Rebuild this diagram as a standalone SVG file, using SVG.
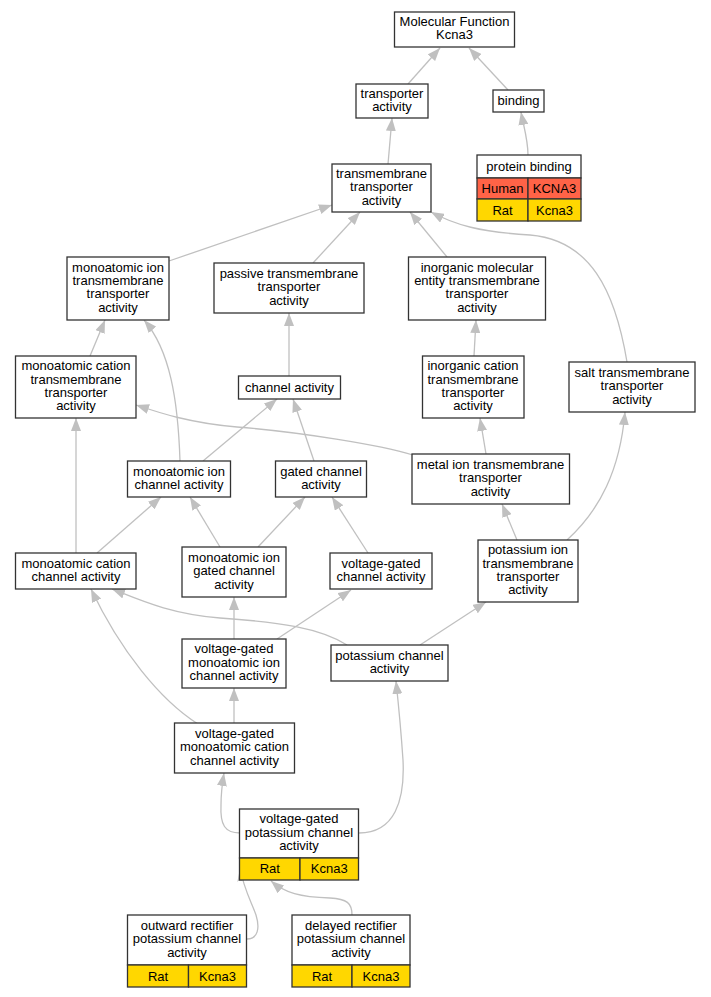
<svg xmlns="http://www.w3.org/2000/svg" width="711" height="997" viewBox="0 0 711 997">
<defs>
<marker id="a" markerUnits="userSpaceOnUse" markerWidth="14" markerHeight="10" refX="13" refY="5" orient="auto"><path d="M0,0 L13,5 L0,10 z" fill="#c0c0c0"/></marker>
<style>
rect{fill:#fff;stroke:#333;stroke-width:1.3}
rect.r{fill:#ff6347}
rect.y{fill:#ffd700}
text{font-family:"Liberation Sans",Arial,sans-serif;font-size:13px;text-anchor:middle;fill:#000}
.e path{fill:none;stroke:#c0c0c0;stroke-width:1.3;marker-end:url(#a)}
</style>
</defs>
<rect x="0" y="0" width="711" height="997" style="fill:#fff;stroke:none"/>
<g class="e" id="edges">
<path d="M408,84 L440,48"/>
<path d="M508,90 L469,48"/>
<path d="M528,155 C528,140 524,128 521,112"/>
<path d="M388,164 L392,118"/>
<path d="M169,261 L332,205"/>
<path d="M313,263 L360,212"/>
<path d="M447,257 L410,212"/>
<path d="M627,362 C615,290 590,240 530,235 C480,232 455,225 431,212"/>
<path d="M90,356 L105,320"/>
<path d="M180,461 C178,400 170,350 144,320"/>
<path d="M289,376 L289,313"/>
<path d="M474,356 L476,320"/>
<path d="M413,455 C380,445 300,432 237,427 C190,423 160,413 136,405"/>
<path d="M486,454 L480,418"/>
<path d="M567,540 C600,510 620,470 625,412"/>
<path d="M203,461 L277,399"/>
<path d="M314,461 L293,399"/>
<path d="M76,553 L76,418"/>
<path d="M97,553 L161,497"/>
<path d="M220,547 L190,497"/>
<path d="M258,547 L305,497"/>
<path d="M368,553 L332,497"/>
<path d="M517,540 L502,504"/>
<path d="M234,639 L234,597"/>
<path d="M277,639 L351,590"/>
<path d="M420,645 L486,602"/>
<path d="M347,645 C320,628 280,622 220,618 C170,614 140,600 112,589"/>
<path d="M198,724 C160,700 120,650 91,589"/>
<path d="M234,723 L234,688"/>
<path d="M240,833 C225,833 220,825 221,805 C221,795 222,785 224,773"/>
<path d="M359,833 C395,833 405,800 403,760 C401,730 398,700 396,681"/>
<path d="M247,939 C258,939 260,928 256,915 C252,903 244,890 240,868"/>
<path d="M352,915 C352,903 347,899 330,898 C300,897 285,893 271,881"/>
</g>
<g id="mf"><rect x="394.5" y="12" width="120" height="35"/><text x="454.5" y="26">Molecular Function</text><text x="454.5" y="39.4">Kcna3</text></g>
<g id="transporter"><rect x="356" y="84" width="72" height="34"/><text x="392" y="97.6">transporter</text><text x="392" y="111">activity</text></g>
<g id="binding"><rect x="493" y="90" width="51" height="22"/><text x="518.5" y="104.5">binding</text></g>
<g id="protein-binding">
<rect x="477" y="155" width="104" height="23"/><text x="529" y="171">protein binding</text>
<rect class="r" x="477" y="178" width="51" height="21"/><text x="502.5" y="193">Human</text>
<rect class="r" x="528" y="178" width="53" height="21"/><text x="554.5" y="193">KCNA3</text>
<rect class="y" x="477" y="199" width="51" height="22"/><text x="502.5" y="214.5">Rat</text>
<rect class="y" x="528" y="199" width="53" height="22"/><text x="554.5" y="214.5">Kcna3</text>
</g>
<g id="tm"><rect x="332" y="164" width="99" height="48"/><text x="381.5" y="177.8">transmembrane</text><text x="381.5" y="191.2">transporter</text><text x="381.5" y="204.6">activity</text></g>
<g id="mono-ion-tm"><rect x="67" y="257" width="102" height="63"/><text x="118" y="271.6">monoatomic ion</text><text x="118" y="285">transmembrane</text><text x="118" y="298.4">transporter</text><text x="118" y="311.8">activity</text></g>
<g id="passive"><rect x="214" y="263" width="150" height="50"/><text x="289" y="277.8">passive transmembrane</text><text x="289" y="291.2">transporter</text><text x="289" y="304.6">activity</text></g>
<g id="inorg-mol"><rect x="408.5" y="257" width="137" height="63"/><text x="477" y="271.6">inorganic molecular</text><text x="477" y="285">entity transmembrane</text><text x="477" y="298.4">transporter</text><text x="477" y="311.8">activity</text></g>
<g id="mono-cation-tm"><rect x="15.5" y="356" width="120.5" height="62"/><text x="76" y="370.1">monoatomic cation</text><text x="76" y="383.5">transmembrane</text><text x="76" y="396.9">transporter</text><text x="76" y="410.3">activity</text></g>
<g id="channel"><rect x="238.5" y="376" width="102" height="23"/><text x="289.5" y="391.5">channel activity</text></g>
<g id="inorg-cation"><rect x="422.5" y="356" width="101.5" height="62"/><text x="473" y="370.1">inorganic cation</text><text x="473" y="383.5">transmembrane</text><text x="473" y="396.9">transporter</text><text x="473" y="410.3">activity</text></g>
<g id="salt"><rect x="569" y="362" width="126" height="50"/><text x="632" y="376.8">salt transmembrane</text><text x="632" y="390.2">transporter</text><text x="632" y="403.6">activity</text></g>
<g id="mono-ion-channel"><rect x="127.5" y="461" width="103" height="36"/><text x="179" y="475.5">monoatomic ion</text><text x="179" y="488.9">channel activity</text></g>
<g id="gated"><rect x="275.5" y="461" width="91" height="36"/><text x="321" y="475.5">gated channel</text><text x="321" y="488.9">activity</text></g>
<g id="metal"><rect x="412" y="454" width="157.5" height="50"/><text x="490.5" y="468.8">metal ion transmembrane</text><text x="490.5" y="482.2">transporter</text><text x="490.5" y="495.6">activity</text></g>
<g id="mono-cation-channel"><rect x="15.5" y="553" width="120.5" height="36"/><text x="76" y="567.5">monoatomic cation</text><text x="76" y="580.9">channel activity</text></g>
<g id="mono-ion-gated"><rect x="182" y="547" width="104" height="50"/><text x="234" y="561.8">monoatomic ion</text><text x="234" y="575.2">gated channel</text><text x="234" y="588.6">activity</text></g>
<g id="vg-channel"><rect x="330" y="553" width="102" height="36"/><text x="381" y="567.5">voltage-gated</text><text x="381" y="580.9">channel activity</text></g>
<g id="k-ion-tm"><rect x="478" y="540" width="100" height="62"/><text x="528" y="554.1">potassium ion</text><text x="528" y="567.5">transmembrane</text><text x="528" y="580.9">transporter</text><text x="528" y="594.3">activity</text></g>
<g id="vg-mono-ion"><rect x="182" y="639" width="104" height="49"/><text x="234" y="653.3">voltage-gated</text><text x="234" y="666.7">monoatomic ion</text><text x="234" y="680.1">channel activity</text></g>
<g id="k-channel"><rect x="331" y="645" width="117" height="36"/><text x="389.5" y="659.5">potassium channel</text><text x="389.5" y="672.9">activity</text></g>
<g id="vg-mono-cation"><rect x="174.5" y="723" width="120" height="50"/><text x="234.5" y="737.8">voltage-gated</text><text x="234.5" y="751.2">monoatomic cation</text><text x="234.5" y="764.6">channel activity</text></g>
<g id="vgk">
<rect x="239.5" y="809" width="119" height="49"/><text x="299" y="823.3">voltage-gated</text><text x="299" y="836.7">potassium channel</text><text x="299" y="850.1">activity</text>
<rect class="y" x="239.5" y="858" width="60.5" height="22"/><text x="269.8" y="873">Rat</text>
<rect class="y" x="300" y="858" width="58.5" height="22"/><text x="329.2" y="873">Kcna3</text>
</g>
<g id="outward">
<rect x="127.5" y="915" width="119" height="50"/><text x="187" y="929.8">outward rectifier</text><text x="187" y="943.2">potassium channel</text><text x="187" y="956.6">activity</text>
<rect class="y" x="127.5" y="965" width="61" height="22"/><text x="158" y="980.5">Rat</text>
<rect class="y" x="188.5" y="965" width="58" height="22"/><text x="217.5" y="980.5">Kcna3</text>
</g>
<g id="delayed">
<rect x="292" y="915" width="118" height="50"/><text x="351" y="929.8">delayed rectifier</text><text x="351" y="943.2">potassium channel</text><text x="351" y="956.6">activity</text>
<rect class="y" x="292" y="965" width="60" height="22"/><text x="322" y="980.5">Rat</text>
<rect class="y" x="352" y="965" width="58" height="22"/><text x="381" y="980.5">Kcna3</text>
</g>
</svg>
